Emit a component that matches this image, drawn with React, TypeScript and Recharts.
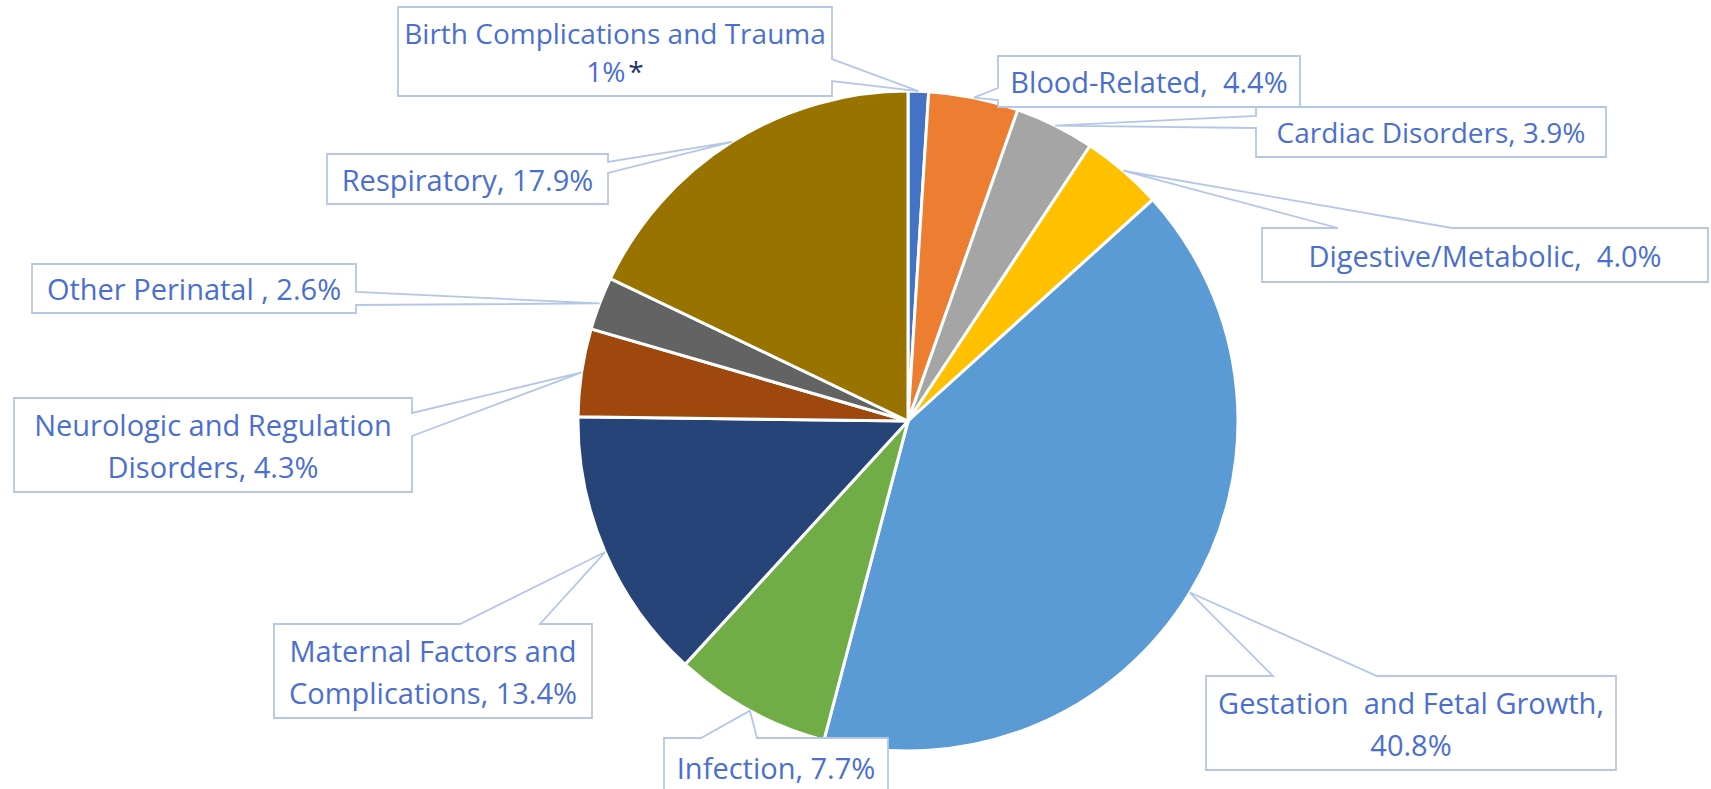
import { PieChart, Pie, Cell } from "recharts";

const categories = [
  "Birth Complications and Trauma",
  "Blood-Related",
  "Cardiac Disorders",
  "Digestive/Metabolic",
  "Gestation and Fetal Growth",
  "Infection",
  "Maternal Factors and Complications",
  "Neurologic and Regulation Disorders",
  "Other Perinatal",
  "Respiratory",
];

const shares = [1, 4.4, 3.9, 4.0, 40.8, 7.7, 13.4, 4.3, 2.6, 17.9];

// label text as it appears in each callout, one entry per line
const labelLines = [
  ["Birth Complications and Trauma", "1%*"],
  ["Blood-Related,  4.4%"],
  ["Cardiac Disorders, 3.9%"],
  ["Digestive/Metabolic,  4.0%"],
  ["Gestation  and Fetal Growth,", "40.8%"],
  ["Infection, 7.7%"],
  ["Maternal Factors and", "Complications, 13.4%"],
  ["Neurologic and Regulation", "Disorders, 4.3%"],
  ["Other Perinatal , 2.6%"],
  ["Respiratory, 17.9%"],
];

const colors = [
  "#4472C4",
  "#ED7D31",
  "#A5A5A5",
  "#FFC000",
  "#5B9BD5",
  "#70AD47",
  "#264478",
  "#9E480E",
  "#636363",
  "#997300",
];

// callout boxes: where each label sits and which side its pointer leaves from
type Side = "top" | "left" | "right";
type Callout = { x: number; y: number; w: number; h: number; side: Side; a: number; b: number; fs?: number; lh?: number };
const callouts: Callout[] = [
  { x: 398, y: 7, w: 434, h: 89, side: "right", a: 59, b: 81, fs: 28, lh: 38 },
  { x: 998, y: 56, w: 302, h: 51, side: "left", a: 88, b: 100 },
  { x: 1256, y: 107, w: 350, h: 50, side: "left", a: 116, b: 128, fs: 28 },
  { x: 1262, y: 228, w: 446, h: 54, side: "top", a: 1338, b: 1452 },
  { x: 1206, y: 676, w: 410, h: 94, side: "top", a: 1273, b: 1377 },
  { x: 664, y: 738, w: 224, h: 58, side: "top", a: 701, b: 757 },
  { x: 274, y: 624, w: 318, h: 94, side: "top", a: 460, b: 540 },
  { x: 14, y: 398, w: 398, h: 94, side: "right", a: 413, b: 436 },
  { x: 32, y: 264, w: 324, h: 49, side: "right", a: 292, b: 305 },
  { x: 327, y: 154, w: 281, h: 50, side: "right", a: 162, b: 173 },
];

const data = categories.map((name, i) => ({ name, value: shares[i] }));

const RADIAN = Math.PI / 180;
const FONT = "'Open Sans', 'Noto Sans', sans-serif";
const FS = 29;
const LINE = 42;
const textColor = "#4A6FD0";
const boxStroke = "#B4C7E7";

function calloutPath(c: Callout, tx: number, ty: number) {
  const { x, y, w, h, side, a, b } = c;
  const r = x + w;
  const btm = y + h;
  if (side === "top") {
    return `M${x},${y} L${a},${y} L${tx},${ty} L${b},${y} L${r},${y} L${r},${btm} L${x},${btm} Z`;
  }
  if (side === "right") {
    return `M${x},${y} L${r},${y} L${r},${a} L${tx},${ty} L${r},${b} L${r},${btm} L${x},${btm} Z`;
  }
  return `M${x},${y} L${r},${y} L${r},${btm} L${x},${btm} L${x},${b} L${tx},${ty} L${x},${a} Z`;
}

function renderCallout(props: any) {
  const { cx, cy, midAngle, outerRadius, index } = props;
  const c = callouts[index];
  const tx = cx + outerRadius * Math.cos(-midAngle * RADIAN);
  const ty = cy + outerRadius * Math.sin(-midAngle * RADIAN);
  const lines = labelLines[index];
  const fs = c.fs ?? FS;
  const lh = c.lh ?? LINE;
  const xc = c.x + c.w / 2;
  const yc = c.y + c.h / 2;
  return (
    <g key={`callout-${index}`}>
      <path d={calloutPath(c, tx, ty)} fill="#fff" stroke={boxStroke} strokeWidth={1.8} />
      {lines.map((ln, li) => {
        const by = yc + fs * 0.4 + (li - (lines.length - 1) / 2) * lh;
        const star = ln.endsWith("*");
        return (
          <text
            key={li}
            x={xc}
            y={by}
            textAnchor="middle"
            fontFamily={FONT}
            fontSize={fs}
            fill={textColor}
            xmlSpace="preserve"
            style={{ whiteSpace: "pre" }}
          >
            {star ? ln.slice(0, -1) : ln}
            {star && (
              <tspan fill="#1F3864" dx={3}>
                *
              </tspan>
            )}
          </text>
        );
      })}
    </g>
  );
}

export default function App() {
  return (
    <div style={{ position: "absolute", left: 0, top: 0, width: 1711, height: 789, background: "#fff" }}>
      <PieChart width={1711} height={789} margin={{ top: 0, right: 0, bottom: 0, left: 0 }}>
        <Pie
          data={data}
          dataKey="value"
          nameKey="name"
          cx={908}
          cy={421}
          outerRadius={330}
          startAngle={90}
          endAngle={-270}
          stroke="#fff"
          strokeWidth={3}
          label={renderCallout}
          labelLine={false}
          isAnimationActive={false}
        >
          {data.map((d, i) => (
            <Cell key={d.name} fill={colors[i]} />
          ))}
        </Pie>
      </PieChart>
    </div>
  );
}
